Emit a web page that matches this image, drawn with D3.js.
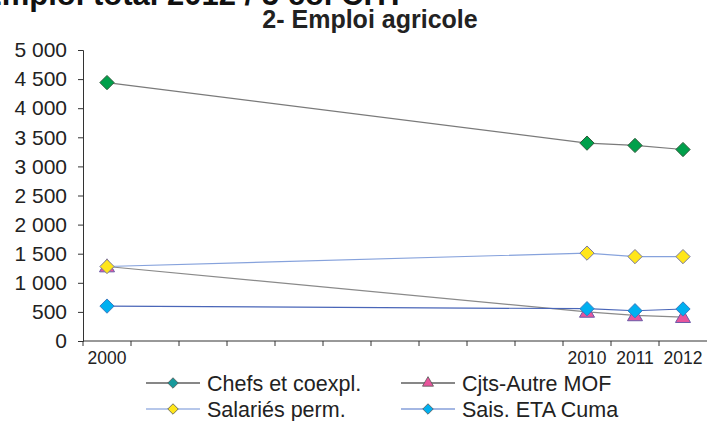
<!DOCTYPE html>
<html>
<head>
<meta charset="utf-8">
<script src="https://cdn.jsdelivr.net/npm/d3@7"></script>
<style>
body { margin: 0; background: #fff; }
svg { display: block; font-family: "Liberation Sans", Arial, sans-serif; }
</style>
</head>
<body>
<div id="chartDiv"></div>
<script>
var years = ["2000", "2001", "2002", "2003", "2004", "2005", "2006", "2007", "2008", "2009", "2010", "2011", "2012"]
var shownYears = ["2000", "2010", "2011", "2012"]
var yTicks = [0, 500, 1000, 1500, 2000, 2500, 3000, 3500, 4000, 4500, 5000]

var pointYears = ["2000", "2010", "2011", "2012"]
var chefs = [4440, 3400, 3360, 3290]
var cjts = [1280, 500, 440, 410]
var salaries = [1280, 1510, 1450, 1450]
var saisonniers = [600, 555, 520, 550]

var seriesNames = ["Chefs et coexpl.", "Cjts-Autre MOF", "Salariés perm.", "Sais. ETA Cuma"]

var width = 707, height = 421
var margin = {top: 50, right: 0, bottom: 80, left: 83}

var svg = d3.select("#chartDiv").append("svg")
    .attr("width", width)
    .attr("height", height)

var x = d3.scaleBand().domain(years).range([margin.left, width]).padding(0)
var y = d3.scaleLinear().domain([0, 5000]).range([height - margin.bottom, margin.top])

var fmt = function(d) { return d3.format(",")(d).replace(",", " ") }

// heading of the page above, cut by the top edge
svg.append("text")
    .attr("x", -19).attr("y", 5)
    .attr("font-size", 31).attr("font-weight", "bold")
    .attr("fill", "#111")
    .text("Emploi total 2012 / 5 col CHT")

svg.append("text")
    .attr("x", 370).attr("y", 28)
    .attr("text-anchor", "middle")
    .attr("font-size", 25).attr("font-weight", "bold")
    .attr("fill", "#222")
    .text("2- Emploi agricole")

// y axis
var yAxis = d3.axisLeft(y).tickValues(yTicks).tickSize(5).tickFormat(fmt)
var yg = svg.append("g").attr("transform", "translate(" + margin.left + ",0)").call(yAxis)
yg.select(".domain").attr("stroke", "#333")
yg.selectAll(".tick line").attr("stroke", "#333")
yg.selectAll(".tick text")
    .attr("font-size", 21)
    .attr("font-family", "Liberation Sans, Arial")
    .attr("fill", "#222")
    .attr("x", -16)

// x axis: ticks on category edges, labels for some years only
var xg = svg.append("g").attr("transform", "translate(0," + y(0) + ")")
xg.append("line").attr("x1", margin.left).attr("x2", width).attr("stroke", "#333")
xg.selectAll(".edge")
    .data(years)
    .enter().append("line")
    .attr("x1", function(d) { return x(d) }).attr("x2", function(d) { return x(d) })
    .attr("y1", 0).attr("y2", 5)
    .attr("stroke", "#333")
xg.selectAll(".lbl")
    .data(shownYears)
    .enter().append("text")
    .attr("x", function(d) { return x(d) + x.bandwidth() / 2 })
    .attr("y", 23)
    .attr("text-anchor", "middle")
    .attr("font-size", 17.5)
    .attr("fill", "#222")
    .text(function(d) { return d })

var series = [
    {name: seriesNames[0], values: chefs, line: "#7a7a7a", fill: "#00a04b", stroke: "#2d5a3a", shape: "diamond", legLine: "#111", legFill: "#17999b"},
    {name: seriesNames[1], values: cjts, line: "#8a8a8a", fill: "#e8559c", stroke: "#6a5aa8", shape: "triangle", legLine: "#111", legFill: "#e8559c"},
    {name: seriesNames[2], values: salaries, line: "#86a2dc", fill: "#ffe61a", stroke: "#7a7aa0", shape: "diamond", legLine: "#6f8fd6", legFill: "#ffe61a"},
    {name: seriesNames[3], values: saisonniers, line: "#4a66b8", fill: "#00b0f0", stroke: "#3a7ac0", shape: "diamond", legLine: "#4a70c8", legFill: "#00b0f0"}
]

var cx = function(d) { return x(d) + x.bandwidth() / 2 }

var line = d3.line()
    .x(function(d) { return cx(d.year) })
    .y(function(d) { return y(d.value) })

function symbolPath(shape, size) {
    if (shape == "triangle") {
        return d3.symbol().type(d3.symbolTriangle).size(size * 0.75)()
    }
    return d3.symbol().type(d3.symbolDiamond2).size(size)()
}

series.forEach(function(s) {
    var pts = pointYears.map(function(yr, i) { return {year: yr, value: s.values[i]} })
    svg.append("path")
        .attr("d", line(pts))
        .attr("fill", "none")
        .attr("stroke", s.line)
        .attr("stroke-width", 1.2)
})

series.forEach(function(s) {
    var pts = pointYears.map(function(yr, i) { return {year: yr, value: s.values[i]} })
    svg.append("g").selectAll("path")
        .data(pts)
        .enter().append("path")
        .attr("d", symbolPath(s.shape, 130))
        .attr("transform", function(d) {
            var dy = s.shape == "triangle" ? 1 : 0
            return "translate(" + cx(d.year) + "," + (y(d.value) + dy) + ")"
        })
        .attr("fill", s.fill)
        .attr("stroke", s.stroke)
        .attr("stroke-width", 1)
})

// legend, 2 columns
var legend = svg.selectAll(".legend")
    .data(series)
    .enter().append("g")
    .attr("transform", function(d, i) {
        var col = i % 2, row = Math.floor(i / 2)
        return "translate(" + (146 + col * 255) + "," + (383 + row * 26) + ")"
    })
legend.append("line")
    .attr("x1", 0).attr("x2", 54)
    .attr("stroke", function(d) { return d.legLine })
    .attr("stroke-width", 1.2)
legend.append("path")
    .attr("d", function(d) { return symbolPath(d.shape, 70) })
    .attr("transform", "translate(27,0)")
    .attr("fill", function(d) { return d.legFill })
    .attr("stroke", "#555")
    .attr("stroke-width", 0.8)
legend.append("text")
    .attr("x", 61).attr("y", 7.5)
    .attr("font-size", 21.5)
    .attr("fill", "#222")
    .text(function(d) { return d.name })
</script>
</body>
</html>
